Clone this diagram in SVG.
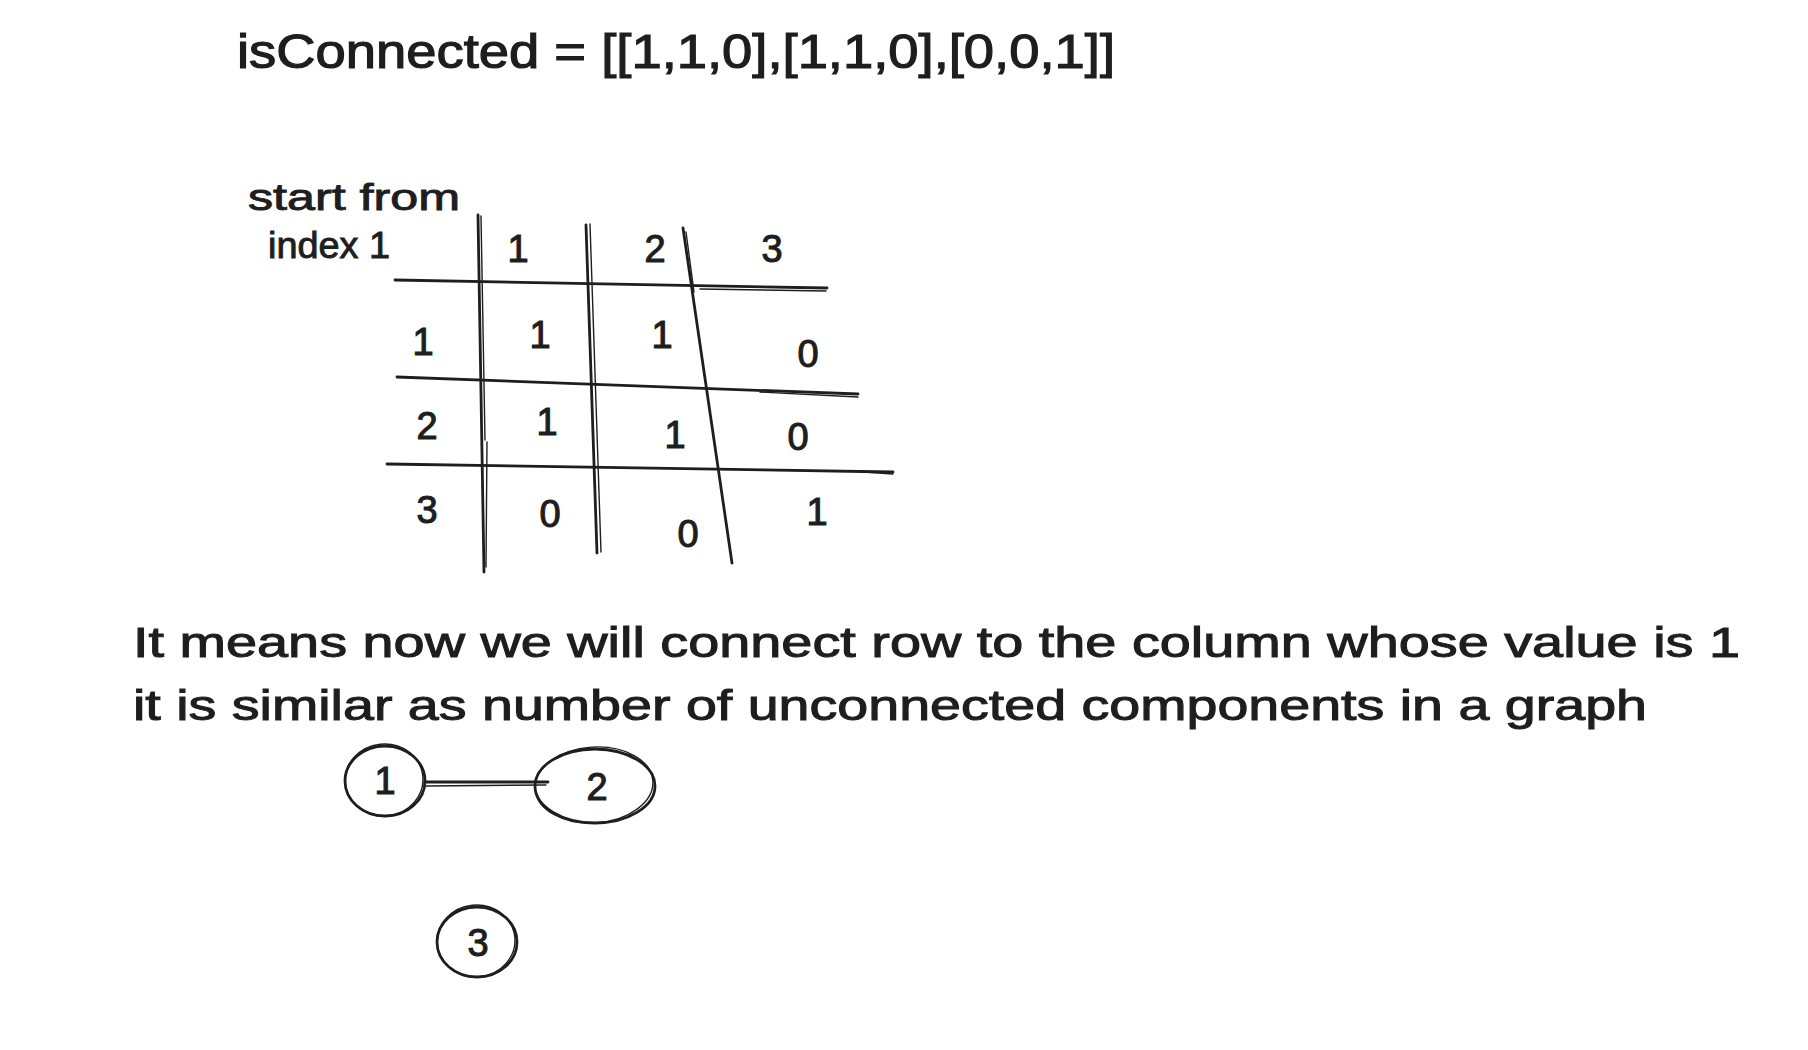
<svg xmlns="http://www.w3.org/2000/svg" width="1808" height="1050" viewBox="0 0 1808 1050">
<style>
  text { font-family: "Liberation Sans", "DejaVu Sans", sans-serif; fill: #1e1e1e; stroke: #1e1e1e; stroke-width: 0.9; }
  .title { font-size: 48px; stroke-width: 1.2; }
  .note { font-size: 36px; }
  .body { font-size: 42px; stroke-width: 1; }
  .cell { font-size: 38px; text-anchor: middle; stroke-width: 1.1; }
  .stroke { fill: none; stroke: #1e1e1e; stroke-width: 2.8; stroke-linecap: round; }
  .thin { fill: none; stroke: #1e1e1e; stroke-width: 1.4; stroke-linecap: round; }
</style>
<rect width="1808" height="1050" fill="#ffffff"/>

<g id="title">
  <text class="title" x="237" y="68" textLength="878" lengthAdjust="spacingAndGlyphs">isConnected = [[1,1,0],[1,1,0],[0,0,1]]</text>
</g>

<g id="start-note">
  <text class="note" x="248" y="210" textLength="212" lengthAdjust="spacingAndGlyphs">start from</text>
  <text class="note" x="268" y="258" textLength="122" lengthAdjust="spacingAndGlyphs">index 1</text>
</g>

<g id="table-grid">
  <path class="stroke" d="M478 215 L484 572"/>
  <path class="thin" d="M481 216 L485 440"/>
  <path class="thin" d="M487 442 L486 567"/>
  <path class="stroke" d="M586 225 L597 553"/>
  <path class="thin" d="M590 224 L601 552"/>
  <path class="stroke" d="M683 228 L732 563"/>
  <path class="thin" d="M686 232 L694 292"/>
  <path class="stroke" d="M395 280 L827 288"/>
  <path class="thin" d="M700 289 L826 291"/>
  <path class="stroke" d="M397 377 L858 394"/>
  <path class="thin" d="M760 392 L858 397"/>
  <path class="stroke" d="M387 464 L893 472"/>
  <path class="thin" d="M850 471 L893 474"/>
</g>

<g id="table-headers">
  <text class="cell" x="518" y="262">1</text>
  <text class="cell" x="655" y="262">2</text>
  <text class="cell" x="772" y="262">3</text>
  <text class="cell" x="423" y="355">1</text>
  <text class="cell" x="427" y="439">2</text>
  <text class="cell" x="427" y="523">3</text>
</g>

<g id="table-values">
  <text class="cell" x="540" y="348">1</text>
  <text class="cell" x="662" y="348">1</text>
  <text class="cell" x="808" y="367">0</text>
  <text class="cell" x="547" y="435">1</text>
  <text class="cell" x="675" y="448">1</text>
  <text class="cell" x="798" y="450">0</text>
  <text class="cell" x="550" y="527">0</text>
  <text class="cell" x="688" y="547">0</text>
  <text class="cell" x="817" y="525">1</text>
</g>

<g id="explanation">
  <text class="body" x="133" y="657" textLength="1607" lengthAdjust="spacingAndGlyphs">It means now we will connect row to the column whose value is 1</text>
  <text class="body" x="133" y="720" textLength="1514" lengthAdjust="spacingAndGlyphs">it is similar as number of unconnected components in a graph</text>
</g>

<g id="connectors">
  <path class="stroke" d="M425 782 L548 782"/>
  <path class="thin" d="M426 786 L546 785"/>
</g>

<g id="node-1">
  <ellipse class="stroke" cx="385" cy="781" rx="40" ry="35"/>
  <ellipse class="thin" cx="384" cy="780" rx="39" ry="36" transform="rotate(-6 384 780)"/>
  <text class="cell" x="385" y="794">1</text>
</g>

<g id="node-2">
  <ellipse class="stroke" cx="595" cy="786" rx="60" ry="37"/>
  <ellipse class="thin" cx="594" cy="785" rx="59" ry="38" transform="rotate(-4 594 785)"/>
  <text class="cell" x="597" y="800">2</text>
</g>

<g id="node-3">
  <ellipse class="stroke" cx="477" cy="942" rx="40" ry="35"/>
  <ellipse class="thin" cx="476" cy="941" rx="39" ry="36" transform="rotate(-6 476 941)"/>
  <text class="cell" x="478" y="956">3</text>
</g>
</svg>
